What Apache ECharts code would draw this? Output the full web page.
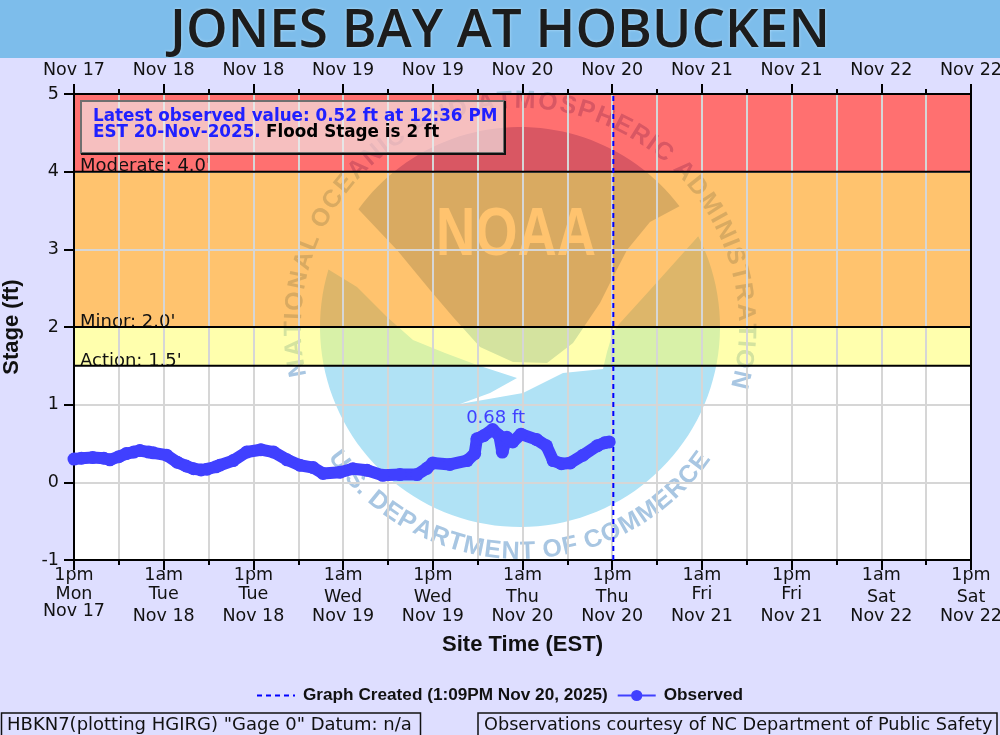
<!DOCTYPE html>
<html><head><meta charset="utf-8">
<style>html,body{margin:0;padding:0;background:#dedeff;overflow:hidden}#c{width:1000px;height:735px}</style>
<script src="https://cdn.jsdelivr.net/npm/echarts@6/dist/echarts.min.js"></script>
</head><body><div id="c"></div>
<script>
const titleText = 'JONES BAY AT HOBUCKEN';
const topLabels = ['Nov 17','Nov 18','Nov 18','Nov 19','Nov 19','Nov 20','Nov 20','Nov 21','Nov 21','Nov 22','Nov 22'];
const timeLabels = ['1pm','1am','1pm','1am','1pm','1am','1pm','1am','1pm','1am','1pm'];
const dayLabels = ['Mon','Tue','Tue','Wed','Wed','Thu','Thu','Fri','Fri','Sat','Sat'];
const obsHours = [0,1,2.5,4,4.8,6,7,8,8.8,10,10.6,12.4,13.8,15,16,17,17.8,19,19.5,21.3,23.1,25,26.7,28.5,30.2,32,33.3,35.6,37.3,39.2,41.3,43.6,45.9,47.2,48,50.3,52.6,53.6,53.9,54.8,56,56.9,57.3,57.9,58.7,59.8,61.9,63.2,64.1,65.2,66.4,68.1,70,71,71.6];
const obsStage = [0.30,0.31,0.32,0.31,0.29,0.33,0.37,0.39,0.41,0.39,0.38,0.35,0.26,0.21,0.175,0.16,0.17,0.20,0.22,0.28,0.39,0.42,0.39,0.29,0.22,0.19,0.115,0.13,0.175,0.155,0.09,0.10,0.10,0.18,0.25,0.23,0.28,0.37,0.56,0.60,0.68,0.60,0.39,0.58,0.52,0.62,0.55,0.47,0.28,0.24,0.25,0.35,0.47,0.51,0.52];
const createdHour = 72.15;
const bandLow = [4,2,1.5];
const bandHigh = [5,4,2];
const bandColor = ['rgba(255,0,0,0.56)','rgba(255,150,0,0.57)','rgba(255,255,91,0.5)'];
const bandLabel = ["Moderate: 4.0'","Minor: 2.0'","Action: 1.5'"];
const ringTop = 'NATIONAL OCEANIC AND ATMOSPHERIC ADMINISTRATION';
const ringBottom = 'U.S. DEPARTMENT OF COMMERCE';

const FONT = '"DejaVu Sans"';
const TICK = 17.5;
const LOGO_DARK = '#a8c6e2', LOGO_LIGHT = '#b0e2f5', CX = 520, CY = 327, R = 200;

function arcPts(a0, a1, n){ // degrees clockwise from top
  const p = [];
  for (let i=0;i<=n;i++){const a=(a0+(a1-a0)*i/n)*Math.PI/180;p.push([CX+R*Math.sin(a),CY-R*Math.cos(a)]);}
  return p;
}
const darkPts = arcPts(-53.9,52.9,50).concat([[650,222],[627,250],[613,277],[600,303],[573,343],[547,363],[513,362],[480,347],[453,317],[430,290],[397,250]]);
const lightPts = arcPts(63,286.7,90).concat([[357,287],[387,317],[413,340],[445,353],[477,365],[517,378],[490,393],[460,404],[523,393],[563,373],[603,369],[607,352],[613,332],[620,323],[650,290]]);

const logo = [
  {type:'polygon',z:1,shape:{points:lightPts},style:{fill:LOGO_LIGHT},silent:true},
  {type:'polygon',z:1,shape:{points:darkPts},style:{fill:LOGO_DARK},silent:true},
  {type:'text',z:1,x:516,y:236,scaleX:0.8,silent:true,style:{text:'NOAA',fill:'#fff',font:'bold 68px "Liberation Sans"',textAlign:'center',textVerticalAlign:'middle'}}
];
const mctx = document.createElement('canvas').getContext('2d');
const RING_FONT = 'bold 25px "Liberation Sans"';
mctx.font = RING_FONT;
function ring(text, start, end, r, bottom){
  const w = [...text].map(c=>mctx.measureText(c).width);
  const total = w.reduce((a,b)=>a+b,0);
  let acc = 0;
  [...text].forEach((ch,i)=>{
    const deg = start+(end-start)*(acc+w[i]/2)/total, a = deg*Math.PI/180;
    acc += w[i];
    logo.push({type:'text',z:1,silent:true,
      x: CX+r*Math.sin(a), y: bottom ? CY+r*Math.cos(a) : CY-r*Math.cos(a),
      rotation: bottom ? a : -a,
      style:{text:ch,fill:LOGO_DARK,font:RING_FONT,textAlign:'center',textVerticalAlign:'middle'}});
  });
}
ring(ringTop,-103,106,226,false);
ring(ringBottom,-56,55.5,225,true);

const peakIdx = obsStage.indexOf(Math.max(...obsStage));
const peakText = obsStage[peakIdx].toFixed(2)+' ft';

function tallDay(d){return d==='Wed'||d==='Thu'||d==='Sat';}
const tickTok = lh => ({lineHeight:lh,fontFamily:FONT,fontSize:TICK,color:'#111'});
const chart = echarts.init(document.getElementById('c'),null,{renderer:'canvas'});
chart.setOption({
  animation:false,
  backgroundColor:'#dedeff',
  title:{text:titleText,left:'center',top:0,textStyle:{fontFamily:'"Open Sans"',fontWeight:600,fontSize:53,color:'#1c1c1c',textShadowColor:'rgba(190,230,255,0.9)',textShadowBlur:3}},
  grid:{left:74,top:94,width:897,height:466,show:true,backgroundColor:'#fff',borderWidth:0,outerBoundsMode:'none',containLabel:false},
  legend:{left:256,top:687,padding:0,itemGap:9,itemWidth:38,itemHeight:14,data:[
      {name:'Graph Created (1:09PM Nov 20, 2025)',itemStyle:{color:'rgba(0,0,0,0)',borderWidth:0},lineStyle:{width:2,type:[5,4],color:'#0000ff'}},
      {name:'Observed',lineStyle:{width:2,color:'#4040ff'}}],
    textStyle:{fontFamily:'"Liberation Sans"',fontWeight:'bold',fontSize:17.2,color:'#111',padding:[0,0,0,3]}},
  xAxis:[{
    type:'value',min:0,max:120,interval:12,position:'bottom',z:5,
    axisLine:{onZero:false,lineStyle:{color:'#000',width:2}},
    axisTick:{show:true,length:10,lineStyle:{color:'#000',width:2}},
    minorTick:{show:true,splitNumber:2,length:5,lineStyle:{color:'#000',width:2}},
    splitLine:{show:true,lineStyle:{color:'#d6d6d6',width:2}},
    minorSplitLine:{show:true,lineStyle:{color:'#d6d6d6',width:2}},
    axisLabel:{margin:5,showMinLabel:true,showMaxLabel:true,hideOverlap:false,color:'#111',fontFamily:FONT,fontSize:TICK,
      formatter:v=>{const i=Math.round(v/12),d=dayLabels[i],tall=tallDay(d);
        const ds=tall?'dt':'ds', ns=i===0?'n0':(tall?'nt':'ns');
        return `{t|${timeLabels[i]}}\n{${ds}|${d}}\n{${ns}|${topLabels[i]}}`;},
      rich:{t:tickTok(20),ds:tickTok(18),dt:tickTok(24),ns:tickTok(26),nt:tickTok(14),n0:tickTok(16)}},
    name:'Site Time (EST)',nameLocation:'middle',nameGap:74,nameTextStyle:{fontFamily:'"Liberation Sans"',fontWeight:'bold',fontSize:22,color:'#111'}
  },{
    type:'value',min:0,max:120,interval:12,position:'top',z:5,
    axisLine:{onZero:false,lineStyle:{color:'#000',width:2}},
    axisTick:{show:true,length:10,lineStyle:{color:'#000',width:2}},
    minorTick:{show:true,splitNumber:2,length:5,lineStyle:{color:'#000',width:2}},
    splitLine:{show:false},
    axisLabel:{margin:15,showMinLabel:true,showMaxLabel:true,hideOverlap:false,color:'#111',fontFamily:FONT,fontSize:TICK,formatter:v=>topLabels[Math.round(v/12)]}
  }],
  yAxis:[{
    type:'value',min:-1,max:5,interval:1,z:5,
    axisLine:{show:true,onZero:false,lineStyle:{color:'#000',width:2}},
    axisTick:{show:true,length:10,lineStyle:{color:'#000',width:2}},
    splitLine:{show:true,lineStyle:{color:'#d6d6d6',width:2}},
    axisLabel:{margin:15,color:'#111',fontFamily:FONT,fontSize:TICK},
    name:'Stage (ft)',nameLocation:'middle',nameGap:51,nameTextStyle:{fontFamily:'"Liberation Sans"',fontWeight:'bold',fontSize:22,color:'#111'}
  },{
    type:'value',min:-1,max:5,interval:1,position:'right',z:5,
    axisLine:{show:true,onZero:false,lineStyle:{color:'#000',width:2}},
    axisTick:{show:false},splitLine:{show:false},axisLabel:{show:false}
  }],
  series:[
    {type:'custom',name:'bands',z:3,silent:true,
     data:bandLow.map((l,i)=>[l,bandHigh[i],i]),
     encode:{y:[0,1]},
     renderItem:(p,api)=>{
       const i=api.value(2), a=api.coord([0,api.value(1)]), b=api.coord([120,api.value(0)]);
       return {type:'rect',shape:{x:a[0],y:a[1],width:b[0]-a[0],height:b[1]-a[1]},style:{fill:bandColor[i]}};
     }},
    {type:'custom',name:'bandLabels',z:4,silent:true,
     data:bandLow.map((l,i)=>[l,i]),encode:{y:0},
     renderItem:(p,api)=>{
       const i=api.value(1), b=api.coord([0,api.value(0)]);
       return {type:'text',x:b[0]+6,y:b[1]-14,
         style:{text:bandLabel[i],fill:'#111',font:'18px "DejaVu Sans"',textAlign:'left',textVerticalAlign:'top'},
         clipPath:{type:'rect',shape:{x:0,y:-4,width:200,height:18}}};
     }},
    {type:'custom',name:'bandLines',z:6,silent:true,
     data:bandLow.map(l=>[l]),encode:{y:0},
     renderItem:(p,api)=>{
       const a=api.coord([0,api.value(0)]), b=api.coord([120,api.value(0)]);
       return {type:'line',shape:{x1:a[0],y1:a[1],x2:b[0],y2:b[1]},style:{stroke:'#000',lineWidth:2}};
     }},
    {type:'line',name:'Graph Created (1:09PM Nov 20, 2025)',z:9,symbol:'none',
     data:[[createdHour,-1],[createdHour,5]],
     lineStyle:{color:'#0000ff',width:2,type:[5,4]},itemStyle:{color:'#0000ff'}},
    {type:'line',name:'Observed',z:10,symbol:'circle',symbolSize:13,showAllSymbol:true,
     data:obsHours.map((h,i)=>{
       const d={value:[h,obsStage[i]]};
       if(i===peakIdx) d.label={show:true,position:'top',distance:1,offset:[3,5],formatter:peakText,color:'#4040ff',fontFamily:FONT,fontSize:18};
       return d;
     }),
     itemStyle:{color:'#4040ff'},lineStyle:{color:'#4040ff',width:12}}
  ],
  graphic:[
    {type:'rect',z:0,shape:{x:0,y:0,width:1000,height:58},style:{fill:'#7dbdeb'},silent:true},
    ...logo,
    {type:'rect',z:20,silent:true,shape:{x:81,y:101,width:423,height:52},style:{fill:'rgba(240,240,240,0.62)',stroke:'#6f6f6f',lineWidth:2}},
    {type:'polyline',z:20,silent:true,shape:{points:[[505,101],[505,154],[81,154]]},style:{stroke:'#111',lineWidth:2,fill:'none'}},
    {type:'text',z:21,silent:true,x:93,y:117,style:{text:'Latest observed value: 0.52 ft at 12:36 PM',fill:'#2020ff',font:'bold 16.8px "DejaVu Sans"',textVerticalAlign:'middle'}},
    {type:'text',z:21,silent:true,x:93,y:133,style:{text:'EST 20-Nov-2025.',fill:'#2020ff',font:'bold 16.8px "DejaVu Sans"',textVerticalAlign:'middle'}},
    {type:'text',z:21,silent:true,x:266,y:133,style:{text:'Flood Stage is 2 ft',fill:'#000',font:'bold 16.8px "DejaVu Sans"',textVerticalAlign:'middle'}},
    {type:'rect',z:21,silent:true,shape:{x:1.5,y:713,width:419,height:30},style:{fill:'none',stroke:'#111',lineWidth:1.5}},
    {type:'text',z:21,silent:true,x:7,y:725,style:{text:'HBKN7(plotting HGIRG) "Gage 0" Datum: n/a',fill:'#111',font:'18px "DejaVu Sans"',textVerticalAlign:'middle'}},
    {type:'rect',z:21,silent:true,shape:{x:478,y:713,width:519,height:30},style:{fill:'none',stroke:'#111',lineWidth:1.5}},
    {type:'text',z:21,silent:true,x:484,y:725,style:{text:'Observations courtesy of NC Department of Public Safety',fill:'#111',font:'17.7px "DejaVu Sans"',textVerticalAlign:'middle'}}
  ]
});
</script></body></html>
